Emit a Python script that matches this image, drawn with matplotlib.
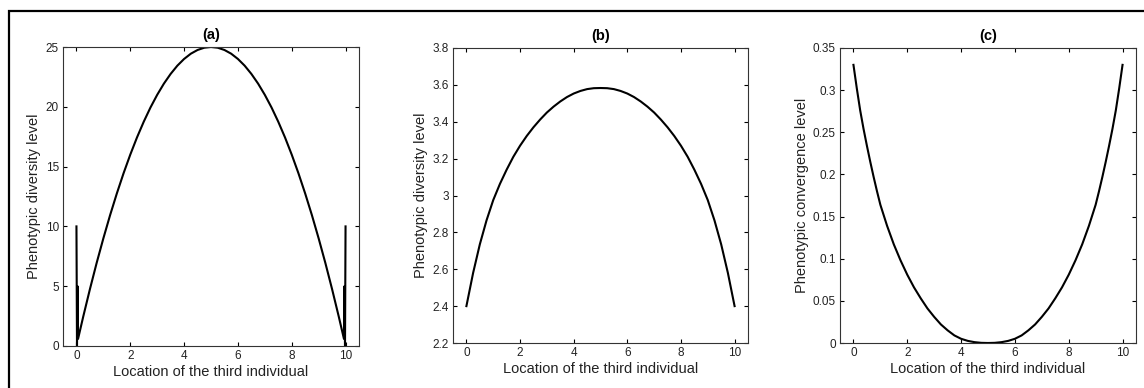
import matplotlib
matplotlib.use("Agg")
import matplotlib.pyplot as plt
from matplotlib.patches import Rectangle
from matplotlib.ticker import FormatStrFormatter

plt.rcParams['font.family'] = ['Liberation Sans', 'DejaVu Sans']

# panel (a): diversity level, with the spikes at both ends
x_a = [0, 0.02, 0.04, 0.06, 0.25, 0.5, 0.75, 1, 1.25, 1.5, 1.75, 2, 2.25, 2.5, 2.75,
       3, 3.25, 3.5, 3.75, 4, 4.25, 4.5, 4.75, 5,
       5.25, 5.5, 5.75, 6, 6.25, 6.5, 6.75, 7, 7.25, 7.5, 7.75, 8, 8.25, 8.5, 8.75,
       9, 9.25, 9.5, 9.75, 9.94, 9.96, 9.98, 10]
y_a = [10, 0, 5, 0.6, 2.44, 4.75, 6.94, 9, 10.94, 12.75, 14.44, 16, 17.44, 18.75, 19.94,
       21, 21.94, 22.75, 23.44, 24, 24.44, 24.75, 24.94, 25,
       24.94, 24.75, 24.44, 24, 23.44, 22.75, 21.94, 21, 19.94, 18.75, 17.44, 16, 14.44, 12.75, 10.94,
       9, 6.94, 4.75, 2.44, 0.6, 5, 0, 10]

# panel (b): diversity level
x_b = [0, 0.25, 0.5, 0.75, 1, 1.25, 1.5, 1.75, 2, 2.25, 2.5, 2.75, 3, 3.25, 3.5, 3.75,
       4, 4.25, 4.5, 4.75, 5,
       5.25, 5.5, 5.75, 6, 6.25, 6.5, 6.75, 7, 7.25, 7.5, 7.75, 8, 8.25, 8.5, 8.75,
       9, 9.25, 9.5, 9.75, 10]
y_b = [2.40, 2.58, 2.735, 2.865, 2.975, 3.063, 3.14, 3.21, 3.27, 3.323, 3.37, 3.412, 3.45, 3.482,
       3.51, 3.534, 3.553, 3.567, 3.577, 3.582, 3.583,
       3.582, 3.577, 3.567, 3.553, 3.534, 3.51, 3.482, 3.45, 3.412, 3.37, 3.323, 3.27, 3.21, 3.14,
       3.063, 2.975, 2.865, 2.735, 2.58, 2.40]

# panel (c): convergence level
x_c = [0, 0.125, 0.25, 0.375, 0.5, 0.625, 0.75, 0.875, 1, 1.25, 1.5, 1.75, 2, 2.25, 2.5, 2.75,
       3, 3.25, 3.5, 3.75, 4, 4.25, 4.5, 4.75, 5,
       5.25, 5.5, 5.75, 6, 6.25, 6.5, 6.75, 7, 7.25, 7.5, 7.75, 8, 8.25, 8.5, 8.75,
       9, 9.125, 9.25, 9.375, 9.5, 9.625, 9.75, 9.875, 10]
y_c = [0.330, 0.302, 0.276, 0.254, 0.234, 0.215, 0.197, 0.180, 0.164, 0.139, 0.117, 0.098, 0.081,
       0.066, 0.053, 0.041, 0.031, 0.022, 0.015, 0.009, 0.005, 0.0025, 0.001, 0.0002, 0.0,
       0.0002, 0.001, 0.0025, 0.005, 0.009, 0.015, 0.022, 0.031, 0.041, 0.053, 0.066, 0.081, 0.098,
       0.117, 0.139, 0.164, 0.180, 0.197, 0.215, 0.234, 0.254, 0.276, 0.302, 0.330]

titles = ['(a)', '(b)', '(c)']
ylabels = ['Phenotypic diversity level', 'Phenotypic diversity level',
           'Phenotypic convergence level']
xlabel = 'Location of the third individual'
x_ticks = [0, 2, 4, 6, 8, 10]
y_ticks = [
    [0, 5, 10, 15, 20, 25],
    [2.2, 2.4, 2.6, 2.8, 3.0, 3.2, 3.4, 3.6, 3.8],
    [0, 0.05, 0.1, 0.15, 0.2, 0.25, 0.3, 0.35],
]
y_lims = [(0, 25), (2.2, 3.8), (0, 0.35)]

W, H = 1144, 388
fig = plt.figure(figsize=(W / 100, H / 100), dpi=100)

# axes boxes in pixels: left, top, right, bottom
boxes = [(63, 47, 359, 346), (453, 48, 748, 343), (840, 48, 1136, 343)]
series = [(x_a, y_a), (x_b, y_b), (x_c, y_c)]

for i, (l, t, r, b) in enumerate(boxes):
    ax = fig.add_axes([l / W, 1 - b / H, (r - l) / W, (b - t) / H])
    xs, ys = series[i]
    ax.plot(xs, ys, color='black', lw=1.5, solid_joinstyle='round')
    ax.set_xlim(-0.5, 10.5)
    ax.set_ylim(*y_lims[i])
    ax.set_xticks(x_ticks)
    ax.set_yticks(y_ticks[i])
    ax.yaxis.set_major_formatter(FormatStrFormatter('%g'))
    ax.tick_params(direction='in', length=3, width=0.8, top=True, right=True,
                   labelsize=8.5, labelcolor='#222222', pad=3)
    for sp in ax.spines.values():
        sp.set_linewidth(0.8)
        sp.set_color('#333333')
    ax.set_xlabel(xlabel, fontsize=10.5, color='#222222', labelpad=2)
    ax.set_ylabel(ylabels[i], fontsize=10.5, color='#222222', labelpad=3)
    ax.set_title(titles[i], fontsize=10.5, fontweight='bold', pad=6)

# outer frame of the figure (left and top edges visible)
fig.add_artist(Rectangle((8.8 / W, -0.2), 1.2, 1.2 - 10.5 / H, transform=fig.transFigure,
                         fill=False, edgecolor='black', lw=1.6))

fig.savefig('out.png', dpi=100)
